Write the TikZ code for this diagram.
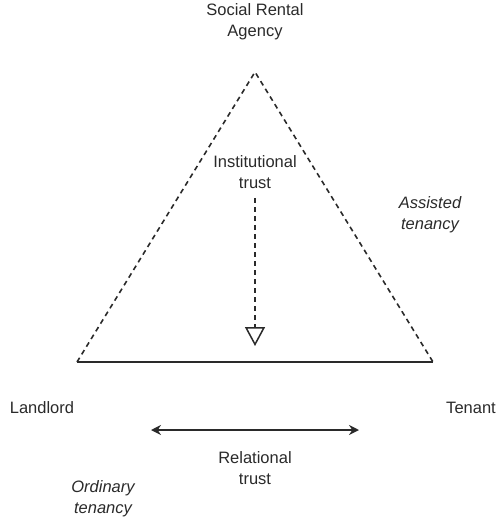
\documentclass[tikz,border=0pt]{standalone}
\usepackage{fontspec}
\setmainfont{Liberation Sans}
\usetikzlibrary{arrows.meta}
\definecolor{ink}{HTML}{2A2A2A}
\begin{document}
\begin{tikzpicture}[x=1pt,y=-1pt,
  lbl/.style={font=\fontsize{16.5}{21}\selectfont, text=ink, align=center, inner sep=0pt},
  ital/.style={lbl, font=\fontsize{16.5}{21}\selectfont\itshape},
  dashline/.style={draw=ink, line width=1.6pt, dash pattern=on 5pt off 4pt},
  solidline/.style={draw=ink, line width=1.6pt}]
\useasboundingbox (0,0) rectangle (498,518);
\coordinate (apex) at (255,72);
\coordinate (bl) at (77,362);
\coordinate (br) at (433,362);
\draw[dashline] (bl) -- (apex) -- (br);
\draw[solidline] (bl) -- (br);
\node[lbl] (sra) at (255,22) {Social Rental\\Agency};
\node[lbl] (inst) at (255,172) {Institutional\\trust};
\coordinate (tipend) at (255,346);
\draw[dashline, -{Triangle[open, length=19pt, width=20pt, line width=1.5pt]}] (255,198) -- (tipend);
\node[ital] (assist) at (430,215) {Assisted\\tenancy};
\node[lbl] (land) at (42,408) {Landlord};
\node[lbl] (ten) at (471,408) {Tenant};
\coordinate (ra) at (151,430);
\coordinate (rb) at (359,430);
\draw[solidline, {Stealth[length=10pt,width=10pt]}-{Stealth[length=10pt,width=10pt]}] (ra) -- (rb);
\node[lbl] (rel) at (255,468) {Relational\\trust};
\node[ital] (ord) at (103,499) {Ordinary\\tenancy};
\end{tikzpicture}
\end{document}
